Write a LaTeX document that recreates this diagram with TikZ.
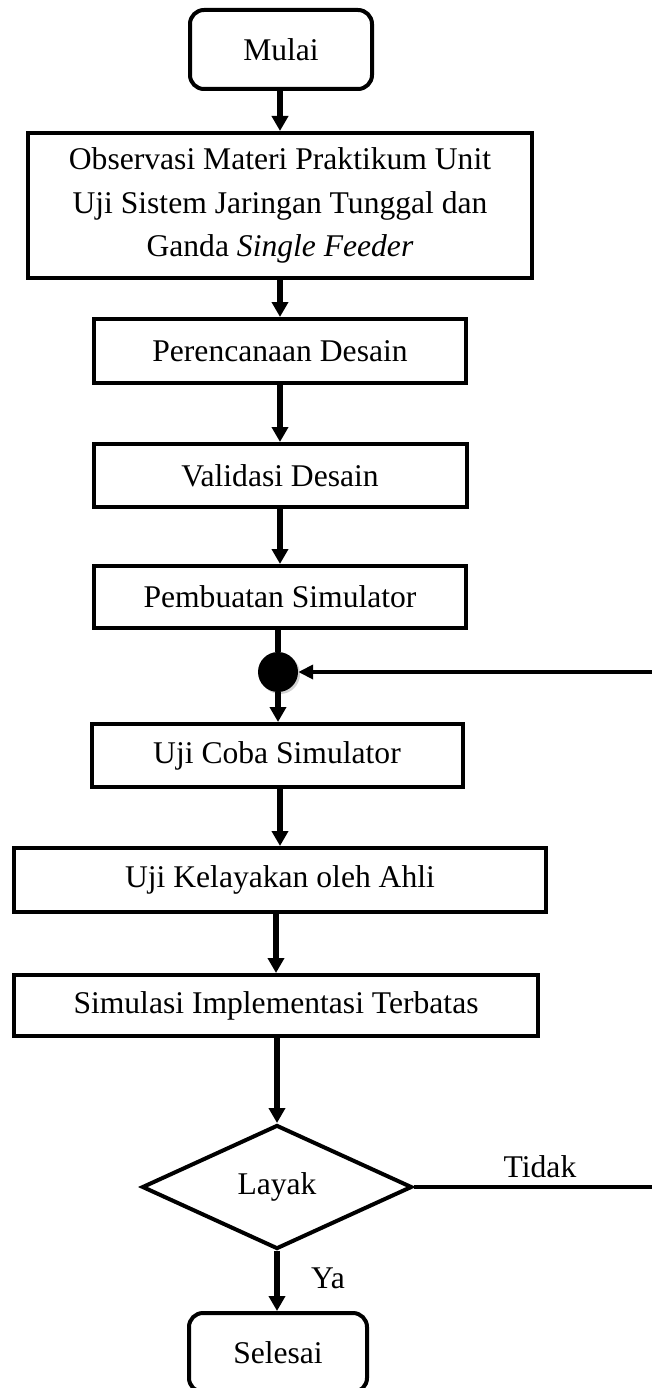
\documentclass[tikz,border=0pt]{standalone}
\usepackage{fontspec}
\setmainfont{Liberation Serif}
\usetikzlibrary{arrows.meta,shapes.geometric,shadows}
\begin{document}
\begin{tikzpicture}[x=1pt,y=-1pt,
  every node/.style={font=\fontsize{31.6}{43.5}\selectfont, inner sep=0pt, align=center},
  procbox/.style={draw, line width=4pt, rectangle},
  termbox/.style={draw, line width=4pt, rectangle, rounded corners=14pt},
  decbox/.style={draw, line width=4pt, diamond, minimum width=270pt, minimum height=124pt},
  flow/.style={line width=5.5pt, -{Triangle[width=16pt,length=15pt]}},
  plain/.style={line width=5.5pt},
  back/.style={line width=4pt, -{Triangle[width=14pt,length=15pt]}},
  lbl/.style={font=\fontsize{31.6}{38}\selectfont}
]
\useasboundingbox (0,0) rectangle (652,1388);
\fill[white] (0,0) rectangle (652,1388);

\node[termbox, minimum width=182pt, minimum height=79pt] (mulai) at (281,49.5) {Mulai};
\node[procbox, minimum width=504pt, minimum height=145pt] (obs) at (280,205.5)
  {Observasi Materi Praktikum Unit\\Uji Sistem Jaringan Tunggal dan\\Ganda \textit{Single Feeder}};
\node[procbox, minimum width=372pt, minimum height=64pt] (rencana) at (280,351) {Perencanaan Desain};
\node[procbox, minimum width=373pt, minimum height=63pt] (valid) at (280,475.5) {Validasi Desain};
\node[procbox, minimum width=372pt, minimum height=62pt] (buat) at (280,597) {Pembuatan Simulator};
\node[circle, fill=black, minimum size=40pt, drop shadow={shadow xshift=2pt, shadow yshift=-2pt, opacity=0.35}] (dot) at (278,672) {};
\node[procbox, minimum width=371pt, minimum height=63pt] (coba) at (277,755.5) {Uji Coba Simulator};
\node[procbox, minimum width=532pt, minimum height=64pt] (layak) at (280,880) {Uji Kelayakan oleh Ahli};
\node[procbox, minimum width=524pt, minimum height=61pt] (simul) at (276,1005.5) {Simulasi Implementasi Terbatas};
\node[decbox] (dec) at (277,1187) {Layak};
\node[termbox, minimum width=178pt, minimum height=79pt] (selesai) at (278,1352.5) {Selesai};

\coordinate (rtop) at (652,672);
\coordinate (rbot) at (652,1187);

\draw[flow] (mulai.south -| obs.north) -- (obs.north);
\draw[flow] (obs.south) -- (rencana.north);
\draw[flow] (rencana.south) -- (valid.north);
\draw[flow] (valid.south) -- (buat.north);
\draw[plain] (buat.south -| dot.north) -- (dot.north);
\draw[flow] (dot.south) -- (dot.south |- coba.north);
\draw[flow] (coba.south -| layak.north) -- (layak.north);
\draw[flow] (layak.south -| simul.north) -- (simul.north);
\draw[flow] (simul.south -| dec.north) -- (dec.north);
\draw[flow] (dec.south) -- (dec.south |- selesai.north);
\draw[back] (rtop) -- (dot.east);
\draw[line width=4pt] (dec.east) -- (rbot);

\node[lbl] (tidak) at (540,1167) {Tidak};
\node[lbl] (ya) at (328,1278) {Ya};
\end{tikzpicture}
\end{document}
